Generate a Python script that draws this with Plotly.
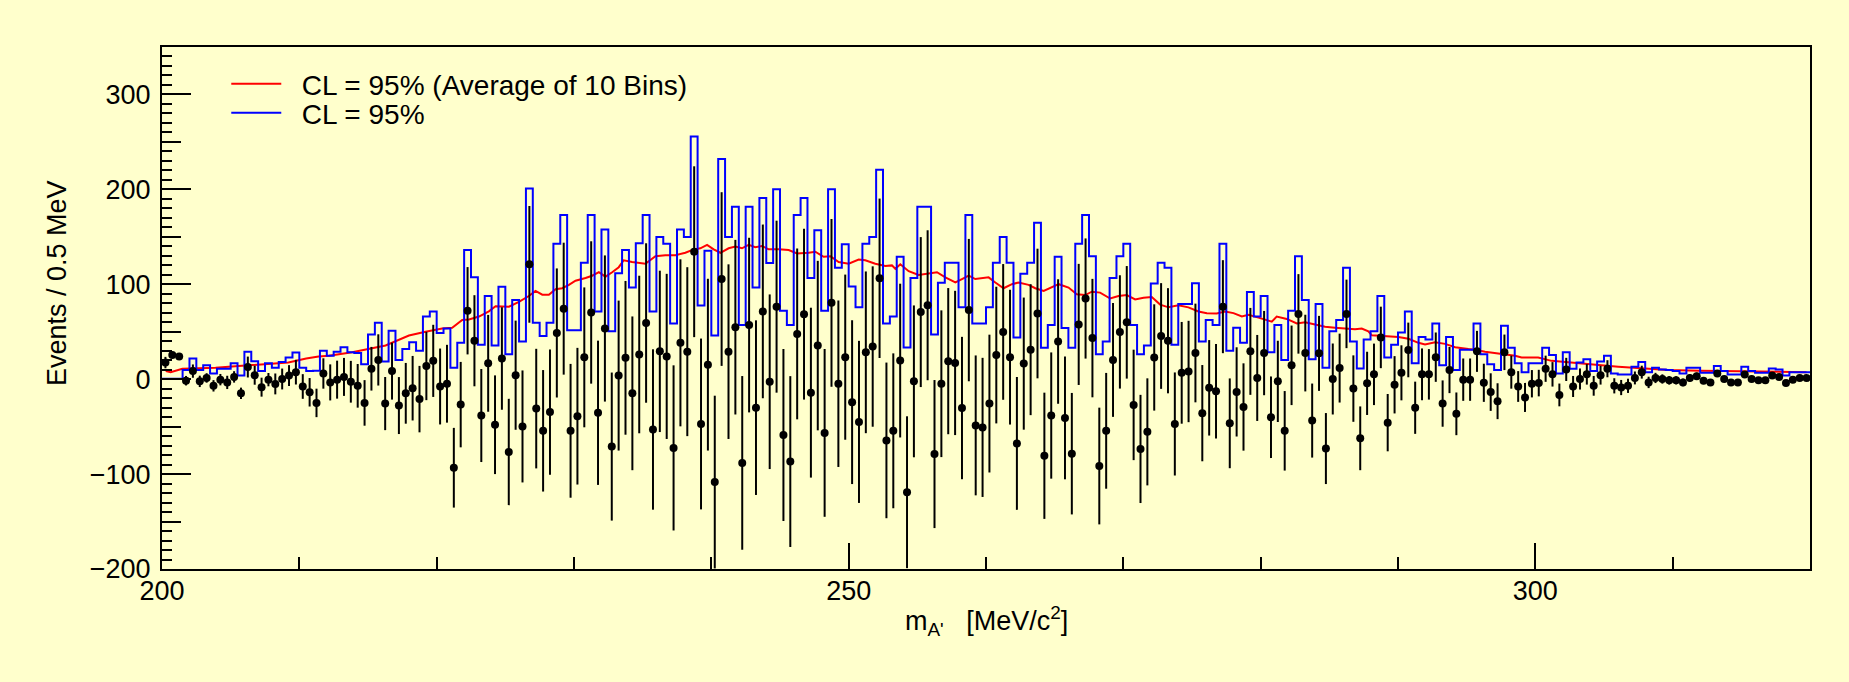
import plotly.graph_objects as go

# ---------------- data ----------------
BIN_LOW = 200.0
BIN_WIDTH = 0.5  # MeV

signal = [
    17.5, 25.4, 24, -1.6, 8.5, -2.3, 1.3, -7, -0.5, -3.4, 2.4, -14.9, 12.8, 4.2, -8.4, -0.5, -5, 0.2, 3.8, 7.4, -7.7, -13.8, -25,
    6, -3.4, -0.5, 2.4, -2.7, -7, -25, 11, 20.3, -25.7, 8.5, -27.8, -14.9, -9.5, -21, 13.9, 19.3, -7.7, -4.8, -93.3, -26.8, 72.1,
    40.5, -38.3, 16.7, -48, 21.8, -76.7, 4.2, -49.8, 121, -31, -54.4, -34.7, 48.7, 74.3, -54.4, -39, 23, 70.3, -35.4, 53.4, -71, 3.8,
    22.5, -14.9, 26, 59.2, -53, 29.3, 24, -72.4, 38.3, 29, 134.3, -47.2, 15.3, -108.4, 105.5, 29, 54.8, -88.2, 57, -30, 71.4, -2.7,
    76.4, -58.8, -86.8, 47.7, 68.5, -14.2, 35.4, -56.6, 80.4, -4.8, 23.2, -24.2, -45, 28.3, 34.4, 106.3, -64.5, -54.4, 19.6, -119.1, -2.3,
    70.7, 77.9, -78.9, -4.8, 19, 17.1, -30.4, 72.8, -48.7, -50.8, -25.7, 25.4, 49.8, 23.2, -67.7, 16.4, 31.1, 69.2, -80.7, -38.3, 39.7, -40.8,
    -78.5, 57.7, 85, 43.3, -91.5, -54.4, 20.3, 49.8, 59.9, -27.1, -73.5, -55.5, 22.9, 45.5, 40.5, -47.2, 6.7, 8.1, 27.6, -35.8, -9.1, -12.7,
    76.4, -46.5, -13.4, -29.3, 29.3, 1.3, 27.5, -40.1, -2.3, -54.4, 14.6, 68.8, 27.5, -43.6, 27.2, -73.1, 0.2, 11.7, 68.8, -9.9, -62.3, -4.4,
    5.1, 44, -45.8, -5.9, 6.7, 30.8, -30.1, 5.1, 5.1, 23.2, -25.7, 9.6, -36.5, -0.5, -0.5, 29.3, -3.8, -13.6, -23.2, 28.3, 7.4, -7.7,
    -19.2, -4.8, -4.1, 11, 5.1, -16.6, 10.3, -7.7, 0.2, 5.1, -7, 4.2, 11, -7, -8.8, -7, 1.3, 7.4, -3.4, 1.3, 0.2, -1.2,
    -1.2, -3.4, 1.3, 3.1, -1.6, -3.4, 6, 0.2, -3.4, -3.4, 4.9, 0.2, -1.2, -1.2, 3.8, 2.4, -4.1, -0.5, 1.3, 1.3,
]

signal_err = [
    6, 3, 3, 5, 7, 6, 5, 6, 6, 7, 6, 6, 11, 10, 10, 7, 11, 11, 11, 13, 13, 15, 15,
    16, 19, 20, 20, 22, 23, 24, 23, 27, 28, 30, 30, 32, 34, 35, 36, 38, 40, 41, 42, 45, 46,
    48, 49, 51, 52, 54, 56, 57.5, 59, 61.5, 63, 64, 66, 68, 69.5, 70.5, 72, 73.7, 75, 76, 77, 78, 79,
    81, 81, 83, 84, 84.5, 85, 87, 87, 88, 89, 90, 90, 90.5, 91, 91.5, 92, 92, 91.5, 92, 92, 91.5, 92,
    90.6, 90.6, 90, 90, 90, 89.5, 89.3, 88.4, 88.4, 87.7, 87, 86.3, 85.4, 85.2, 84.5, 84, 82, 81.6, 81, 80, 80,
    79, 79, 78, 77.3, 77, 76, 75, 75, 73.7, 73.3, 72.6, 72, 71.5, 71, 70, 69.6, 69, 68.3, 66.5, 66.5, 65.6, 64.7,
    64, 63.8, 63.3, 62.4, 61.5, 61, 60, 59.7, 59.3, 58.2, 57, 56.4, 56, 55.7, 55.4, 54.3, 53.6, 53.4, 52, 50.7, 50.3, 49.8,
    49, 47.3, 47, 46, 45.8, 45.3, 44.4, 43, 42.8, 41.9, 41.9, 41.9, 40.4, 39, 39.5, 37.4, 37.4, 36.3, 36.1, 35, 33.6, 33.3,
    32.4, 32.4, 30.2, 30.2, 29, 28.8, 27.5, 27.3, 26.6, 26, 24.4, 24.3, 22.5, 22.3, 22.3, 21.6, 20.1, 19.8, 18.9, 18.7, 17.4, 16.2,
    15.3, 14.4, 14, 13.8, 12.9, 12, 12.2, 11.1, 11.1, 10.8, 10.4, 9.9, 9, 8, 8, 7.5, 6.8, 6.8, 6, 5.4, 4.9, 4.5,
    4.3, 4, 4, 3.8, 3.6, 3.4, 3.2, 3.1, 3, 3, 2.8, 2.7, 2.6, 2.5, 2.4, 2.3, 2.2, 2.1, 2, 2,
]

limit_95 = [
    0.5, 0.5, 0.5, 9.6, 21.8, 9.6, 14.6, 6, 11, 11, 16.7, 3.8, 29, 19, 8.5, 16.7, 12, 18, 22.8, 28, 12, 8.5, 9,
    30, 24.7, 29, 33.6, 28.3, 27.5, 15.7, 47, 59.5, 18.6, 51, 20.3, 31.8, 39, 30, 66, 71.4, 48.7, 53.4, 12, 38.3, 136,
    107.3, 36.2, 87.6, 35.5, 97.3, 26.4, 83.3, 39.7, 200.8, 59.5, 45.5, 59.5, 142.6, 173.1, 51.6, 51.6, 122.8, 173, 71.4, 157.7, 50.5, 111.6,
    136, 96.6, 143.3, 173, 71.4, 149.8, 142.6, 58.8, 157.7, 149.8, 255.8, 77.7, 135.4, 46, 232, 149.8, 181.8, 57, 181.8, 96.6, 191, 122.4,
    200.1, 72.1, 57, 173, 191, 106.6, 157, 72.1, 200.1, 117.4, 142.3, 97.7, 75.7, 142.6, 149.8, 220.6, 58.8, 66, 128.9, 33.3, 106.6,
    181.8, 181.8, 47, 101.7, 122.8, 122.8, 75.7, 173, 58.8, 58.8, 75.7, 122.8, 149.8, 122.8, 44, 111, 122.8, 164.9, 33, 57, 129, 54,
    33, 142.6, 173, 129.6, 26.4, 39.7, 106.6, 129.6, 142.6, 57, 26.4, 35.4, 100.9, 122.8, 117.4, 36.2, 79.3, 79.3, 101.2, 39.7, 62.4, 57,
    142.6, 30, 54.1, 38.3, 91.9, 66, 87.6, 28.3, 57, 20.3, 72.1, 129.6, 83.3, 21, 79.3, 12, 50.5, 62.4, 117.4, 39.7, 11.3, 41.9,
    50.5, 87.6, 22.9, 36.2, 49.1, 71.4, 16.7, 44.4, 41.9, 58.8, 14.6, 44.4, 9.6, 31.1, 31.1, 58.8, 26.4, 15.7, 9.6, 56.3, 33, 16.7,
    7.4, 16.7, 16.7, 33, 25.4, 6, 28.3, 11, 17.5, 21, 8.5, 18.6, 24.7, 6, 4.9, 4.9, 13.1, 18.2, 7.4, 12, 10.3, 9.6,
    8.5, 6, 12, 12, 6.7, 6.7, 13.9, 8.5, 4.9, 4.9, 13.1, 8.5, 6.7, 6.7, 11.3, 10.3, 3.8, 7.4, 7.4, 7.4,
]

avg_mass = [
    200.27, 200.63, 201.48, 203.9, 206.3, 209.2, 210.5, 211.4, 212.16, 213.85, 216.28, 217.98, 219.19, 220.40,
    221.13, 221.86, 222.35, 223.08, 223.80, 224.29, 225.26, 225.99, 226.71, 227.20, 227.69, 228.17, 228.66,
    229.14, 229.63, 230.11, 230.84, 231.32, 231.81, 232.29, 232.78, 233.26, 233.62, 234.23, 235.20, 235.93,
    236.65, 237.38, 238.11, 238.72, 239.20, 239.69, 240.17, 240.66, 241.26, 241.75, 242.23, 242.72, 243.20,
    243.69, 244.17, 244.91, 245.63, 246.24, 247.09, 247.57, 248.18, 248.67, 249.27, 250.0, 250.73, 251.21,
    251.94, 252.67, 253.15, 253.40, 253.76, 254.37, 255.09, 255.70, 256.43, 257.04, 257.77, 258.25, 258.74,
    259.22, 260.19, 260.68, 261.28, 261.89, 262.38, 263.10, 263.59, 264.20, 264.80, 265.29, 266.01, 266.61,
    267.22, 267.71, 268.31, 269.04, 269.65, 270.25, 270.86, 271.47, 272.07, 272.68, 273.29, 274.01, 274.74,
    275.47, 276.08, 276.80, 277.41, 278.02, 278.63, 279.11, 279.84, 280.45, 280.81, 281.17, 281.90, 282.63,
    283.24, 283.96, 284.69, 285.42, 286.15, 286.87, 287.36, 287.84, 288.09, 289.06, 290.03, 290.76, 291.49,
    291.97, 292.70, 293.43, 294.16, 295.13, 295.61, 296.34, 297.07, 297.79, 298.52, 299.0, 300.21, 301.18,
    302.40, 303.61, 304.82, 306.04, 307.25, 308.46, 309.67, 312.0, 315.0, 319.75,
]
avg_limit = [
    8.5, 7.4, 11, 12, 14.6, 17.5, 21.8, 24, 24.7, 28.3, 35.5, 46, 50, 53.4,
    54.1, 62.4, 63, 66, 71.4, 76.8, 76.4, 81.5, 87.6, 93, 89, 89, 94.8,
    95.8, 99.4, 103.7, 106.6, 109, 112.7, 108, 112.7, 118, 125.3, 123.5, 121.7, 129.6,
    130.7, 130.7, 133.2, 136.8, 137.9, 141.5, 136.8, 133.2, 137.9, 139.7, 137.9, 141.5, 139,
    140.4, 136.8, 136.8, 136, 132.5, 133.2, 134.3, 128.9, 129.6, 123.5, 121.7, 126, 125.3,
    121.7, 119.2, 119.9, 116.3, 121, 113.8, 109.9, 110.9, 112.7, 107.3, 101.9, 105.5, 109.1,
    105.5, 107.3, 101.9, 95.8, 100.1, 101.9, 99.4, 95.8, 92.9, 96.5, 100.1, 96.5, 89.4,
    88.6, 92.2, 91.2, 85, 87.6, 88.6, 84, 85.8, 86.5, 78.6, 75.7, 77.9, 75.7,
    71.4, 69.6, 69.2, 71.4, 69.6, 66, 67.8, 64.9, 62.4, 60.6, 66, 63.5, 58.8,
    59.9, 57.7, 55.2, 54.1, 53.4, 52.7, 53.4, 50.5, 46.2, 45.5, 44.4, 42.6, 38.3,
    36.5, 39, 37.2, 33.6, 31.8, 31.1, 29, 27.5, 26.4, 24.7, 22.8, 22.8, 19.3,
    17.5, 15.7, 14.6, 13.1, 12, 11, 9.6, 9, 8.5, 7.4,
]

x_ticks_labels = ["200", "250", "300"]

# ---------------- derived bin geometry ----------------
n_bins = len(signal)
bin_centers = [BIN_LOW + BIN_WIDTH * (i + 0.5) for i in range(n_bins)]
bin_edges = [BIN_LOW + BIN_WIDTH * i for i in range(n_bins + 1)]
limit_steps = limit_95 + [limit_95[-1]]

BG = "#FFFFCC"
FONT = "Liberation Sans, Arial, Helvetica, sans-serif"
TICK_FS = 27
LEG_FS = 28
TITLE_FS = 27
PAD = "\u00a0\u00a0"

fig = go.Figure()

fig.add_trace(go.Scatter(
    x=avg_mass, y=avg_limit, mode="lines",
    line=dict(color="#FF0000", width=2),
    name=PAD + "CL = 95% (Average of 10 Bins)", legend="legend",
))
fig.add_trace(go.Scatter(
    x=bin_edges, y=limit_steps, mode="lines",
    line=dict(color="#0000FF", width=2, shape="hv"),
    name=PAD + "CL = 95%", legend="legend2",
))
fig.add_trace(go.Scatter(
    x=bin_centers, y=signal, mode="markers",
    marker=dict(color="black", size=8),
    error_y=dict(type="data", array=signal_err, symmetric=True,
                 thickness=2, width=0, color="black"),
    showlegend=False,
))
# empty trace to activate the secondary (tick-only) y axis
fig.add_trace(go.Scatter(x=[], y=[], yaxis="y2", showlegend=False, hoverinfo="skip"))

leg_common = dict(xanchor="left", yanchor="middle", bgcolor="rgba(0,0,0,0)",
                  borderwidth=0, font=dict(size=LEG_FS, family=FONT), itemwidth=50)

fig.update_layout(
    width=1849, height=682,
    margin=dict(l=162, r=39, t=47, b=113),
    paper_bgcolor=BG, plot_bgcolor=BG,
    font=dict(family=FONT, size=TICK_FS, color="black"),
    showlegend=True,
    legend=dict(x=0.039, y=(569 - 84) / 522, **leg_common),
    legend2=dict(x=0.039, y=(569 - 113) / 522, **leg_common),
    xaxis=dict(
        range=[200, 320], showgrid=False, zeroline=False,
        showline=True, linecolor="black", linewidth=2, mirror=True,
        ticks="inside", tickmode="array", tickvals=[200, 250, 300], ticktext=x_ticks_labels,
        ticklen=26, tickwidth=1.5, tickcolor="black",
        minor=dict(dtick=10, tick0=200, ticks="inside", ticklen=12, tickwidth=1.5, tickcolor="black"),
        ticklabelstandoff=-3,
        tickfont=dict(size=TICK_FS),
    ),
    yaxis=dict(
        range=[-200, 350], showgrid=False, zeroline=False,
        showline=True, linecolor="black", linewidth=2, mirror=True,
        ticks="inside", tick0=0, dtick=100, ticklen=29, tickwidth=1.5, tickcolor="black",
        minor=dict(dtick=10, tick0=0, ticks="inside", ticklen=10, tickwidth=1.5, tickcolor="black"),
        ticklabelstandoff=4,
        tickfont=dict(size=TICK_FS),
    ),
    yaxis2=dict(
        range=[-200, 350], overlaying="y", side="left", showgrid=False, zeroline=False,
        showline=False, ticks="inside", tick0=0, dtick=50, ticklen=19, tickwidth=1.5,
        tickcolor="black", showticklabels=False,
    ),
    annotations=[
        dict(text="Events / 0.5 MeV", xref="paper", yref="paper",
             x=-0.0637, y=0.548, xanchor="center", yanchor="middle",
             textangle=-90, showarrow=False, font=dict(size=TITLE_FS)),
        dict(text="m<sub>A'</sub>&nbsp;&nbsp;&nbsp;[MeV/c<sup>2</sup>]", xref="paper", yref="paper",
             x=0.5, y=-0.10, xanchor="center", yanchor="middle",
             showarrow=False, font=dict(size=TITLE_FS)),
    ],
)

fig.write_html("out.html")
